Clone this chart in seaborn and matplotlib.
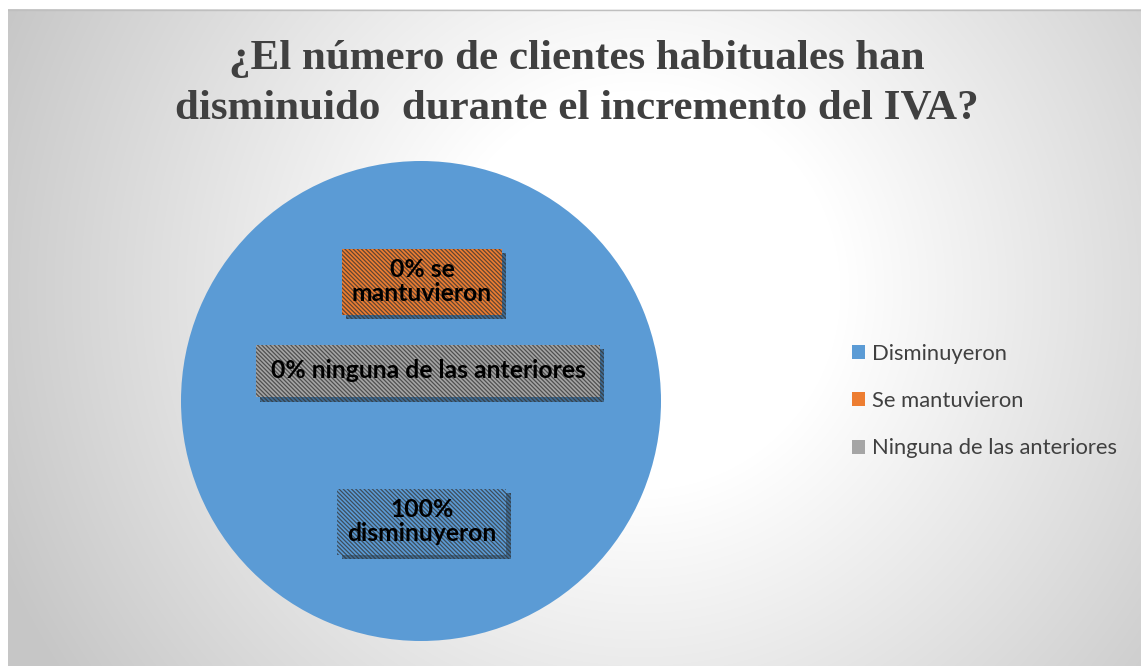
import numpy as np
import matplotlib
matplotlib.use("Agg")
import matplotlib.pyplot as plt
import matplotlib.patheffects as pe
from matplotlib.patches import Patch
import seaborn as sns

# ---- data ----
categories = ["Disminuyeron", "Se mantuvieron", "Ninguna de las anteriores"]
values = [100, 0, 0]
label_texts = ["100%\ndisminuyeron", "0% se\nmantuvieron", "0% ninguna de las anteriores"]
title_text = "¿El número de clientes habituales han\ndisminuido  durante el incremento del IVA?"

colors = sns.color_palette(["#5B9BD5", "#ED7D31", "#A5A5A5"])

sns.set_style("white")
plt.rcParams["font.family"] = ["Lato", "DejaVu Sans"]
plt.rcParams["hatch.linewidth"] = 0.9

W, H = 1141, 666
fig = plt.figure(figsize=(W / 100, H / 100), dpi=100, facecolor="white")

# background gradient panel
bg = fig.add_axes([8 / W, 0, (W - 8) / W, (H - 9) / H])
bw, bh = W - 8, H - 9
yy, xx = np.mgrid[0:bh, 0:bw]
cx, cy = 640 - 8, 290 - 9
r = np.hypot(xx - cx, yy - cy)
v = 255 - 57 * np.clip((r - 200) / 500, 0, 1)
img = np.dstack([v, v, v]) / 255.0
bg.imshow(img, aspect="auto", origin="upper", extent=[0, bw, bh, 0])
bg.set_axis_off()
bg.add_line(plt.Line2D([0, bw], [0.5, 0.5], color="#bfbfbf", lw=1))

# pie
ax = fig.add_axes([181 / W, 25 / H, 480 / W, 480 / H])
wedges, _ = ax.pie(values, colors=colors, startangle=90, counterclock=False,
                   radius=1.0, wedgeprops=dict(linewidth=0))
ax.set_xlim(-1, 1)
ax.set_ylim(-1, 1)
ax.set_aspect("equal")
ax.set_axis_off()

# labels (positions in pie-axes data units)
label_pos = [(0.004, -0.504), (0.004, 0.496), (0.029, 0.125)]
label_pads = [0.4, 0.4, 0.6]
for txt, (lx, ly), col, pad in zip(label_texts, label_pos, colors, label_pads):
    t = ax.text(lx, ly, txt, ha="center", va="center", fontsize=17.8,
                fontweight="bold", color="black", linespacing=1.05,
                bbox=dict(boxstyle=f"square,pad={pad}", facecolor=col,
                          edgecolor=(0.2, 0.2, 0.2, 0.75), linewidth=0,
                          hatch="\\" * 8))
    t.get_bbox_patch().set_path_effects([
        pe.SimplePatchShadow(offset=(3, -3), shadow_rgbFace="black", alpha=0.3),
        pe.Normal()])

# title
fig.text(577 / W, 1 - 84 / H, title_text, ha="center", va="center",
         family=["Liberation Serif", "DejaVu Serif"], fontweight="bold",
         fontsize=31, color="#404040", linespacing=1.4)

# legend
handles = [Patch(facecolor=c, edgecolor="none") for c in colors]
leg = fig.legend(handles, categories, loc="center left",
                 bbox_to_anchor=(843 / W, 1 - 401 / H), frameon=False,
                 fontsize=15.8, handlelength=0.6, handleheight=0.6,
                 handletextpad=0.3, labelspacing=1.25, borderaxespad=0)
for tx in leg.get_texts():
    tx.set_color("#404040")

fig.savefig("out.png", dpi=100, facecolor="white")
